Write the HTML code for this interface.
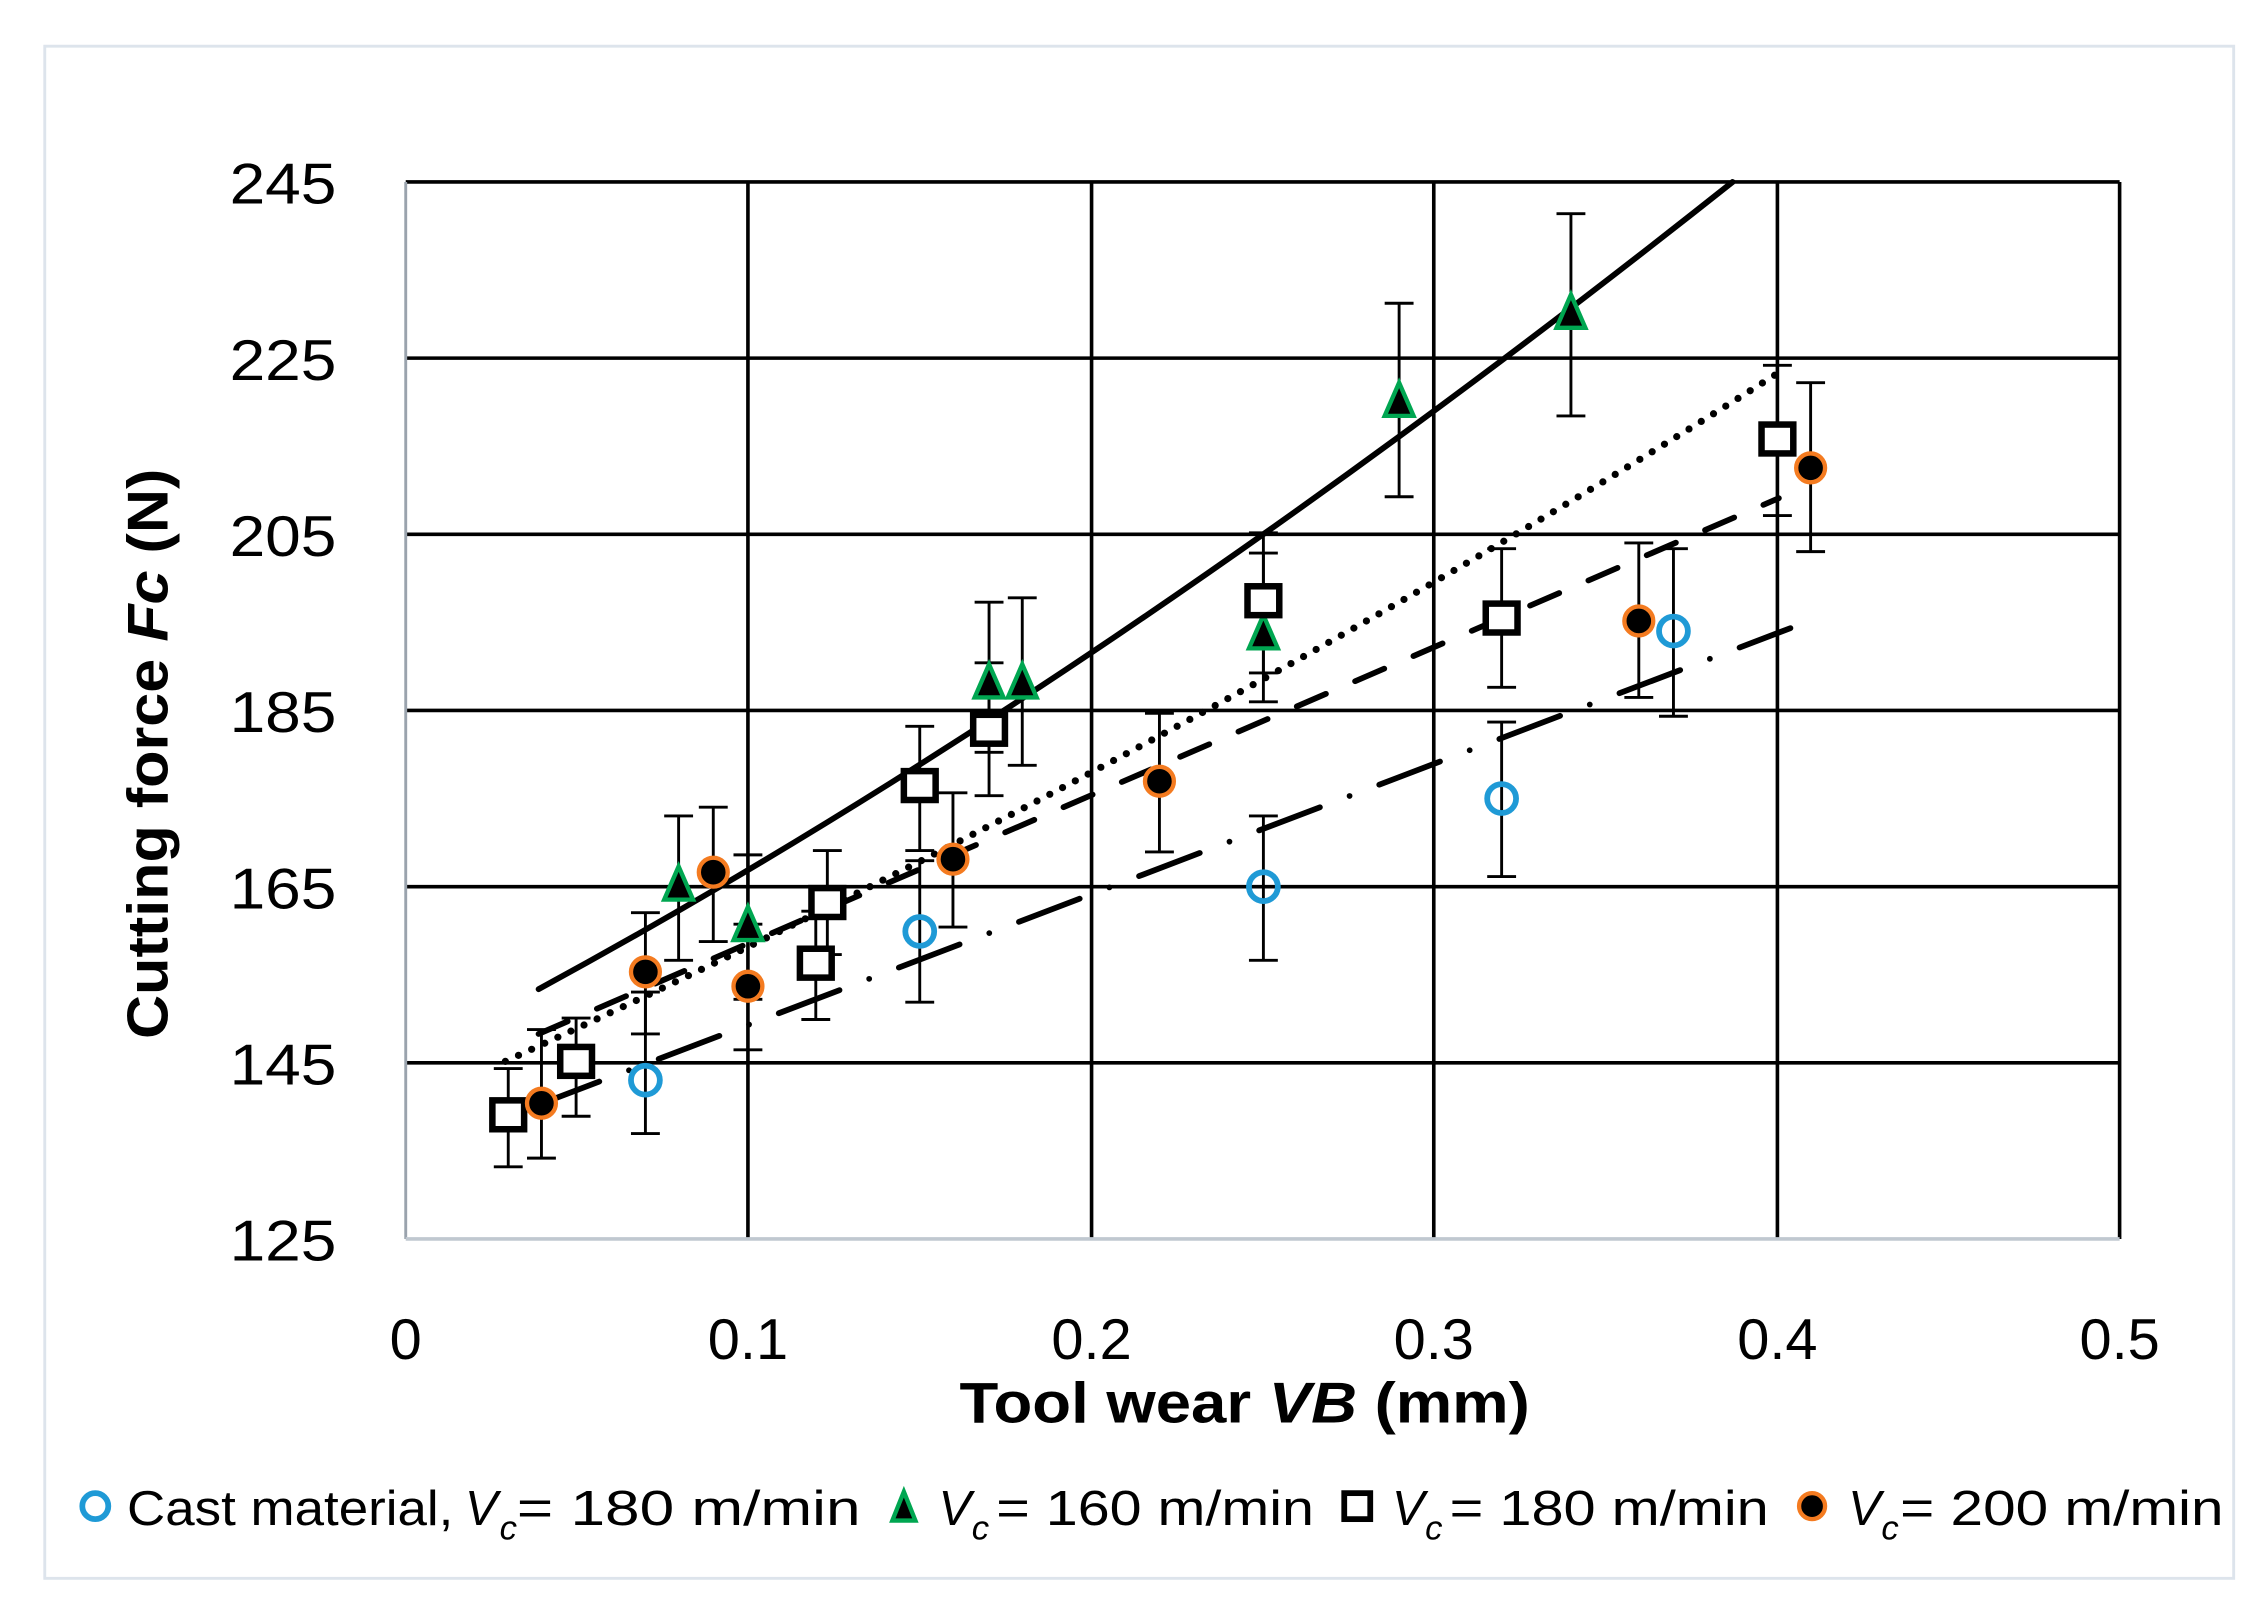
<!DOCTYPE html>
<html><head><meta charset="utf-8"><style>
html,body{margin:0;padding:0;background:#fff;}
svg{display:block;}
text{font-family:"Liberation Sans",sans-serif;fill:#000;}
</style></head><body>
<svg width="2264" height="1600" viewBox="0 0 1568 1108" preserveAspectRatio="none" xmlns="http://www.w3.org/2000/svg">
<rect x="31" y="32" width="1516" height="1061" fill="#fff" stroke="#dde4ec" stroke-width="2"/>
<g stroke="#000" stroke-width="2.5">
<line x1="281" y1="126" x2="1468" y2="126"/>
<line x1="281" y1="248" x2="1468" y2="248"/>
<line x1="281" y1="370" x2="1468" y2="370"/>
<line x1="281" y1="492" x2="1468" y2="492"/>
<line x1="281" y1="614" x2="1468" y2="614"/>
<line x1="281" y1="736" x2="1468" y2="736"/>
<line x1="518" y1="126" x2="518" y2="858"/>
<line x1="756" y1="126" x2="756" y2="858"/>
<line x1="993" y1="126" x2="993" y2="858"/>
<line x1="1231" y1="126" x2="1231" y2="858"/>
<line x1="1468" y1="126" x2="1468" y2="858"/>
</g>
<line x1="281" y1="126" x2="281" y2="858" stroke="#9aa3ad" stroke-width="2"/>
<line x1="281" y1="858" x2="1468" y2="858" stroke="#c0c8d0" stroke-width="2.5"/>
<g font-size="40" text-anchor="end">
<text x="233" y="141" textLength="74" lengthAdjust="spacingAndGlyphs">245</text><text x="233" y="263" textLength="74" lengthAdjust="spacingAndGlyphs">225</text><text x="233" y="385" textLength="74" lengthAdjust="spacingAndGlyphs">205</text>
<text x="233" y="507" textLength="74" lengthAdjust="spacingAndGlyphs">185</text><text x="233" y="629" textLength="74" lengthAdjust="spacingAndGlyphs">165</text><text x="233" y="751" textLength="74" lengthAdjust="spacingAndGlyphs">145</text><text x="233" y="873" textLength="74" lengthAdjust="spacingAndGlyphs">125</text>
</g>
<g font-size="40" text-anchor="middle">
<text x="281" y="941">0</text><text x="518" y="941">0.1</text><text x="756" y="941">0.2</text>
<text x="993" y="941">0.3</text><text x="1231" y="941">0.4</text><text x="1468" y="941">0.5</text>
</g>
<text x="862" y="985" font-size="40" font-weight="bold" text-anchor="middle" textLength="395" lengthAdjust="spacingAndGlyphs">Tool wear <tspan font-style="italic">VB</tspan> (mm)</text>
<text transform="translate(116,522) rotate(-90)" font-size="40" font-weight="bold" text-anchor="middle" textLength="395" lengthAdjust="spacingAndGlyphs">Cutting force <tspan font-style="italic">Fc</tspan> (N)</text>
<g fill="none" stroke="#000" stroke-width="4" stroke-linecap="round">
<path d="M373,685 Q760,475 1200,126"/>
<path d="M350,735 Q820,520 1232,258" stroke-width="5" stroke-dasharray="0,10"/>
<path d="M373,716 L1232,345" stroke-dasharray="22,22"/>
<path d="M373,765 L1240,435" stroke-dasharray="45,22,0,22"/>
</g>
<g stroke="#000" stroke-width="2" fill="none">
<path d="M447,687v98M437,687h20M437,785h20 M637,596v98M627,596h20M627,694h20 M875,565v100M865,565h20M865,665h20 M1040,500v107M1030,500h20M1030,607h20 M1159,380v116M1149,380h20M1149,496h20"/>
<path d="M470,565v100M460,565h20M460,665h20 M518,592v100M508,592h20M508,692h20 M685,417v104M675,417h20M675,521h20 M708,414v116M698,414h20M698,530h20 M875,383v103M865,383h20M865,486h20 M969,210v134M959,210h20M959,344h20 M1088,148v140M1078,148h20M1078,288h20"/>
<path d="M352,740v68M342,740h20M342,808h20 M399,705v68M389,705h20M389,773h20 M565,631v75M555,631h20M555,706h20 M573,589v72M563,589h20M563,661h20 M637,503v86M627,503h20M627,589h20 M685,459v92M675,459h20M675,551h20 M875,369v97M865,369h20M865,466h20 M1040,380v96M1030,380h20M1030,476h20 M1231,253v104M1221,253h20M1221,357h20"/>
<path d="M375,713v89M365,713h20M365,802h20 M447,632v84M437,632h20M437,716h20 M494,559v93M484,559h20M484,652h20 M518,640v87M508,640h20M508,727h20 M660,549v93M650,549h20M650,642h20 M803,494v96M793,494h20M793,590h20 M1135,376v107M1125,376h20M1125,483h20 M1254,265v117M1244,265h20M1244,382h20"/>
</g>
<g fill="none" stroke="#1f9ad6" stroke-width="4">
<circle cx="447" cy="748" r="10"/><circle cx="637" cy="645" r="10"/><circle cx="875" cy="614" r="10"/><circle cx="1040" cy="553" r="10"/><circle cx="1159" cy="437" r="10"/>
</g>
<g fill="#000" stroke="#00a651" stroke-width="3">
<path d="M470,600 l-10,23h20z"/><path d="M518,628 l-10,23h20z"/><path d="M685,460 l-10,23h20z"/><path d="M708,460 l-10,23h20z"/><path d="M875,426 l-10,23h20z"/><path d="M969,265 l-10,23h20z"/><path d="M1088,204 l-10,23h20z"/>
</g>
<g fill="#fff" stroke="#000" stroke-width="4.5">
<rect x="341" y="762" width="22" height="20"/><rect x="388" y="725" width="22" height="20"/><rect x="554" y="657" width="22" height="20"/><rect x="562" y="615" width="22" height="20"/><rect x="626" y="534" width="22" height="20"/><rect x="674" y="495" width="22" height="20"/><rect x="864" y="406" width="22" height="20"/><rect x="1029" y="418" width="22" height="20"/><rect x="1220" y="294" width="22" height="20"/>
</g>
<g fill="#000" stroke="#f47b20" stroke-width="3">
<circle cx="375" cy="764" r="10"/><circle cx="447" cy="673" r="10"/><circle cx="494" cy="604" r="10"/><circle cx="518" cy="683" r="10"/><circle cx="660" cy="595" r="10"/><circle cx="803" cy="541" r="10"/><circle cx="1135" cy="430" r="10"/><circle cx="1254" cy="324" r="10"/>
</g>
<circle cx="66" cy="1043" r="9" fill="none" stroke="#1f9ad6" stroke-width="4"/>
<path d="M626,1033 l-8,20h16z" fill="#000" stroke="#00a651" stroke-width="3"/>
<rect x="931" y="1034" width="18" height="18" fill="#fff" stroke="#000" stroke-width="4"/>
<circle cx="1255" cy="1043" r="9" fill="#000" stroke="#f47b20" stroke-width="3"/>
<g font-size="34">
<text x="88" y="1056" textLength="226" lengthAdjust="spacingAndGlyphs">Cast material,</text>
<text x="322" y="1056" font-style="italic">V</text><text x="346" y="1066" font-size="24" font-style="italic">c</text>
<text x="358" y="1056" textLength="238" lengthAdjust="spacingAndGlyphs">= 180 m/min</text>
<text x="650" y="1056" font-style="italic">V</text><text x="673" y="1066" font-size="24" font-style="italic">c</text>
<text x="690" y="1056" textLength="220" lengthAdjust="spacingAndGlyphs">= 160 m/min</text>
<text x="964" y="1056" font-style="italic">V</text><text x="987" y="1066" font-size="24" font-style="italic">c</text>
<text x="1004" y="1056" textLength="221" lengthAdjust="spacingAndGlyphs">= 180 m/min</text>
<text x="1280" y="1056" font-style="italic">V</text><text x="1303" y="1066" font-size="24" font-style="italic">c</text>
<text x="1316" y="1056" textLength="224" lengthAdjust="spacingAndGlyphs">= 200 m/min</text>
</g>
</svg>
</body></html>
